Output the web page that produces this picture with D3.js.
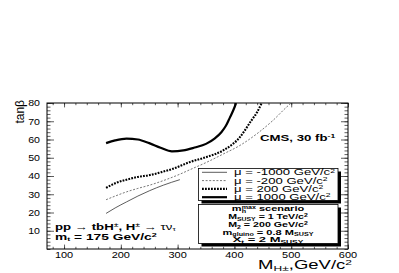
<!DOCTYPE html>
<html>
<head>
<meta charset="utf-8">
<script src="https://cdn.jsdelivr.net/npm/d3@7"></script>
<style>
	body { margin: 0; background: #fff; }
	svg { display: block; font-family: 'Liberation Sans', Arial, sans-serif; }
</style>
</head>
<body>
<svg id="chart" width="399" height="273"></svg>
<script>

// charged higgs mass (GeV/c^2) and tan(beta) reach, one pair per mu value
var mHmu1000 = [ 174, 190, 210, 230, 250, 270, 290, 310, 330, 350, 365, 377, 385, 392, 398, 403 ];
var tbMu1000 = [ 58, 59.5, 60.5, 60, 58, 55.5, 53.5, 54, 55.6, 57.6, 60.5, 64, 67.5, 72, 76, 80 ];

var mHmu200 = [ 174, 190, 210, 230, 251, 270, 292, 322, 351, 380, 410, 430, 440, 448 ];
var tbMu200 = [ 33.5, 36, 38, 39.5, 40.5, 42, 44, 47.7, 50.4, 54, 61.4, 70.5, 75, 80 ];

var mHmuM200 = [ 174, 190, 210, 230, 251, 275, 304, 322, 351, 380, 410, 439, 468, 492, 500 ];
var tbMuM200 = [ 27, 29, 31.3, 33.2, 35, 37.5, 41, 43.5, 47.5, 52, 56.8, 63, 70.5, 77.8, 80 ];

var mHmuM1000 = [ 174, 190, 210, 230, 251, 275, 304 ];
var tbMuM1000 = [ 19.5, 22.5, 25.8, 29, 32, 35, 38 ];

var xTicks = [ 100, 200, 300, 400, 500, 600 ];
var yTicks = [ 10, 20, 30, 40, 50, 60, 70, 80 ];
var legendLabels = [ '-1000', '-200', '200', '1000' ];

var padding = { top: 103, right: 51, bottom: 24, left: 47 };
var width = 399 - padding.left - padding.right;
var height = 273 - padding.top - padding.bottom;

var svg = d3.select( '#chart' );

var x = d3.scaleLinear().domain( [ 70, 600 ] ).range( [ padding.left, padding.left + width ] );
var y = d3.scaleLinear().domain( [ 0, 80 ] ).range( [ padding.top + height, padding.top ] );

// writes parts like [ 'M', 'n' ], [ 'SUSY', 'sub' ] into a text element
function rich( text, parts, size ) {
	var off = 0;
	parts.forEach( function ( p ) {
		var want = p[1] === 'sub' ? size * 0.2 : ( p[1] === 'sup' ? -size * 0.32 : 0 );
		var t = text.append( 'tspan' ).text( p[0] ).attr( 'dy', want - off );
		if ( p[1] !== 'n' ) t.attr( 'font-size', size * 0.65 );
		if ( p[2] ) t.attr( 'dx', p[2] );
		if ( p[3] ) t.attr( 'font-weight', p[3] );
		off = want;
	} );
}

// label anchored at (px, py) and stretched sideways to the given width
function label( px, py, parts, opts ) {
	var g = svg.append( 'g' ).attr( 'transform', 'translate(' + px + ',' + py + ')' );
	var t = g.append( 'text' )
		.attr( 'font-size', opts.size )
		.attr( 'font-weight', opts.bold ? 'bold' : 'normal' )
		.attr( 'text-anchor', opts.anchor || 'start' );
	rich( t, parts, opts.size );
	var sx = opts.scale || ( opts.width / t.node().getBBox().width );
	t.attr( 'transform', 'scale(' + sx + ',1)' );
	return sx;
}

// minor and major ticks, pointing inward on all four sides
var xMinor = d3.range( 80, 601, 20 );
var yMinor = d3.range( 0, 81, 2 );

var tickGroups = [
	{ axis: d3.axisBottom( x ).tickValues( xMinor ).tickSize( -2.2 ), at: padding.top + height },
	{ axis: d3.axisBottom( x ).tickValues( xTicks ).tickSize( -4.4 ), at: padding.top + height },
	{ axis: d3.axisTop( x ).tickValues( xMinor ).tickSize( -2.2 ), at: padding.top },
	{ axis: d3.axisTop( x ).tickValues( xTicks ).tickSize( -4.4 ), at: padding.top },
	{ axis: d3.axisLeft( y ).tickValues( yMinor ).tickSize( -3.5 ), left: padding.left },
	{ axis: d3.axisLeft( y ).tickValues( yTicks ).tickSize( -7 ), left: padding.left },
	{ axis: d3.axisRight( y ).tickValues( yMinor ).tickSize( -3.5 ), left: padding.left + width },
	{ axis: d3.axisRight( y ).tickValues( yTicks ).tickSize( -7 ), left: padding.left + width }
];

tickGroups.forEach( function ( tg ) {
	var g = svg.append( 'g' )
		.attr( 'transform', tg.left !== undefined ? 'translate(' + tg.left + ',0)' : 'translate(0,' + tg.at + ')' )
		.call( tg.axis.tickSizeOuter( 0 ).tickFormat( '' ) );
	g.select( '.domain' ).remove();
	g.selectAll( 'line' ).attr( 'stroke', '#333' ).attr( 'stroke-width', 0.8 );
} );

svg.append( 'rect' )
	.attr( 'x', padding.left )
	.attr( 'y', padding.top )
	.attr( 'width', width )
	.attr( 'height', height )
	.attr( 'fill', 'none' )
	.attr( 'stroke', '#000' )
	.attr( 'stroke-width', 1 );

// tick labels
xTicks.forEach( function ( v ) {
	label( x( v ), 258, [ [ String( v ), 'n' ] ], { size: 9, anchor: 'middle', scale: 1.22 } );
} );
yTicks.forEach( function ( v ) {
	label( 40, y( v ) + 3.3, [ [ String( v ), 'n' ] ], { size: 9, anchor: 'end', scale: 1.18 } );
} );

// curves
var series = [
	{ xs: mHmuM1000, ys: tbMuM1000, w: 0.8, dash: null, color: '#333' },
	{ xs: mHmuM200, ys: tbMuM200, w: 0.8, dash: '2,1.6', color: '#555' },
	{ xs: mHmu200, ys: tbMu200, w: 2.1, dash: '1.8,1.2', color: '#000' },
	{ xs: mHmu1000, ys: tbMu1000, w: 2.2, dash: null, color: '#000' }
];

svg.append( 'clipPath' ).attr( 'id', 'plot-clip' )
	.append( 'rect' )
	.attr( 'x', padding.left ).attr( 'y', padding.top )
	.attr( 'width', width ).attr( 'height', height );

var line = d3.line()
	.x( function ( d ) { return x( d[0] ); } )
	.y( function ( d ) { return y( d[1] ); } )
	.curve( d3.curveMonotoneX );

var curves = svg.append( 'g' ).attr( 'clip-path', 'url(#plot-clip)' );

series.forEach( function ( s ) {
	curves.append( 'path' )
		.datum( d3.zip( s.xs, s.ys ) )
		.attr( 'd', line )
		.attr( 'fill', 'none' )
		.attr( 'stroke', s.color )
		.attr( 'stroke-width', s.w )
		.attr( 'stroke-dasharray', s.dash );
} );

// boxes with the ROOT style shadow
function box( x0, y0, x1, y1 ) {
	svg.append( 'rect' )
		.attr( 'x', x0 + 3 ).attr( 'y', y0 + 3 )
		.attr( 'width', x1 - x0 ).attr( 'height', y1 - y0 )
		.attr( 'fill', '#000' );
	svg.append( 'rect' )
		.attr( 'x', x0 ).attr( 'y', y0 )
		.attr( 'width', x1 - x0 ).attr( 'height', y1 - y0 )
		.attr( 'fill', '#fff' )
		.attr( 'stroke', '#000' )
		.attr( 'stroke-width', 0.8 );
}

box( 198.5, 168.5, 338, 200.5 );
box( 198.5, 204.5, 338, 243.5 );

var legendScale;
series.forEach( function ( s, i ) {
	var by = 175.3 + i * 8.3;
	svg.append( 'line' )
		.attr( 'x1', 202 ).attr( 'x2', 227 )
		.attr( 'y1', by - 3 ).attr( 'y2', by - 3 )
		.attr( 'stroke', s.color )
		.attr( 'stroke-width', s.w )
		.attr( 'stroke-dasharray', s.dash );
	var parts = [ [ '\u03bc = ' + legendLabels[i] + ' GeV/c', 'n' ], [ '2', 'sup' ] ];
	var sx = label( 234, by, parts, i === 0 ? { size: 8.5, width: 101 } : { size: 8.5, scale: legendScale } );
	if ( i === 0 ) legendScale = sx;
} );

// scenario box
var scen = [
	{ y: 211.3, w: 73, parts: [ [ 'm', 'n' ], [ 'h', 'sub' ], [ 'max', 'sup', -3 ], [ ' scenario', 'n' ] ] },
	{ y: 219.3, w: 80, parts: [ [ 'M', 'n' ], [ 'SUSY', 'sub' ], [ ' = 1 TeV/c', 'n' ], [ '2', 'sup' ] ] },
	{ y: 227.1, w: 80, parts: [ [ 'M', 'n' ], [ '2', 'sub' ], [ ' = 200 GeV/c', 'n' ], [ '2', 'sup' ] ] },
	{ y: 234.9, w: 92, parts: [ [ 'm', 'n' ], [ 'gluino', 'sub' ], [ ' = 0.8 M', 'n' ], [ 'SUSY', 'sub' ] ] },
	{ y: 242.4, w: 72, parts: [ [ 'X', 'n' ], [ 't', 'sub' ], [ ' = 2 M', 'n' ], [ 'SUSY', 'sub' ] ] }
];
scen.forEach( function ( r ) {
	label( 268, r.y, r.parts, { size: 7.6, bold: true, anchor: 'middle', width: r.w } );
} );

// annotations
label( 260, 141, [ [ 'CMS, 30 fb', 'n' ], [ '-1', 'sup' ] ], { size: 9.5, bold: true, width: 76 } );

label( 55, 229.5, [ [ 'pp \u2192 tbH', 'n' ], [ '\u00b1', 'sup' ], [ ', H', 'n' ], [ '\u00b1', 'sup' ], [ ' \u2192 ', 'n' ],
	[ '\u03c4\u03bd', 'n', null, 'normal' ], [ '\u03c4', 'sub', null, 'normal' ] ], { size: 9, bold: true, width: 122 } );
label( 55, 239.5, [ [ 'm', 'n' ], [ 't', 'sub' ], [ ' = 175 GeV/c', 'n' ], [ '2', 'sup' ] ], { size: 9, bold: true, width: 103 } );

// axis titles
label( 352, 269, [ [ 'M', 'n' ], [ 'H\u00b1', 'sub' ], [ ',GeV/c', 'n' ], [ '2', 'sup' ] ], { size: 12, anchor: 'end', width: 94 } );

svg.append( 'text' )
	.attr( 'transform', 'translate(24,100) rotate(-90)' )
	.attr( 'text-anchor', 'end' )
	.attr( 'font-size', 12 )
	.text( 'tan\u03b2' );

</script>
</body>
</html>
